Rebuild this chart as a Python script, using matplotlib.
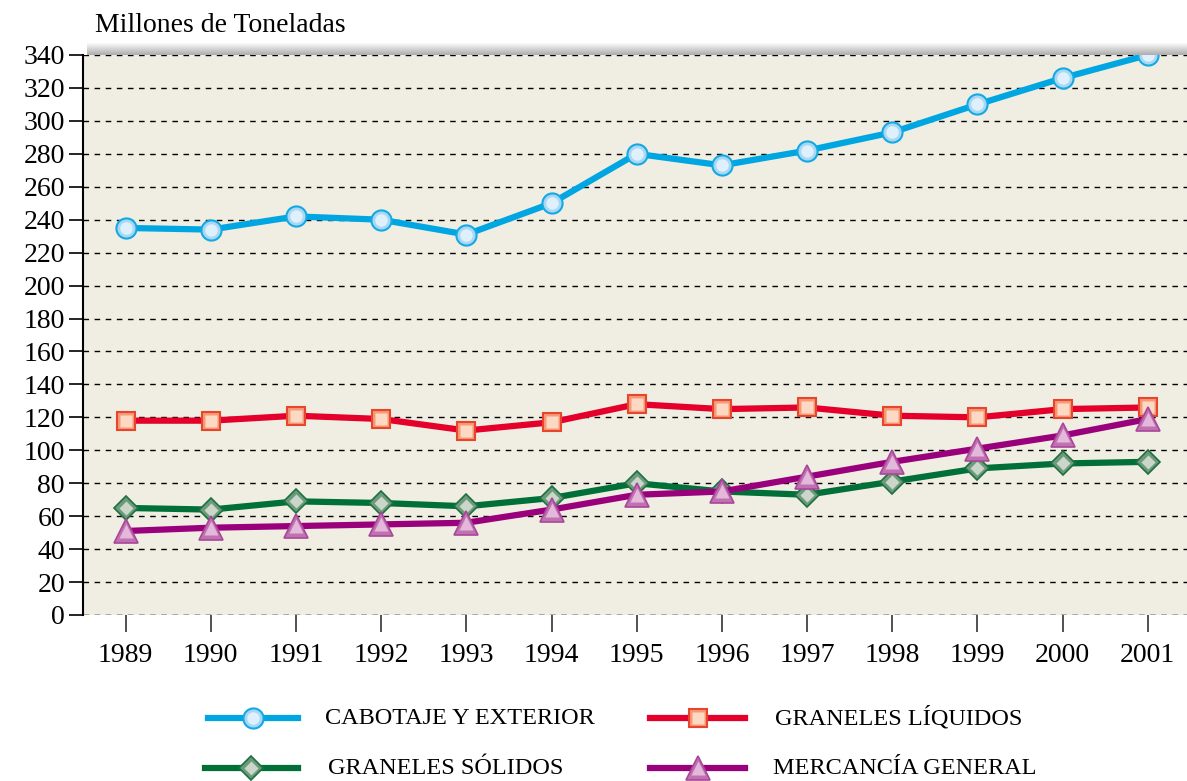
import numpy as np
import matplotlib
matplotlib.use("Agg")
import matplotlib.pyplot as plt
from matplotlib.lines import Line2D

plt.rcParams['font.family'] = ['Liberation Serif', 'DejaVu Serif']

years = [1989, 1990, 1991, 1992, 1993, 1994, 1995, 1996, 1997, 1998, 1999, 2000, 2001]
cabotaje = [235, 234, 242, 240, 231, 250, 280, 273, 282, 293, 310, 326, 340]
liquidos = [118, 118, 121, 119, 112, 117, 128, 125, 126, 121, 120, 125, 126]
solidos = [65, 64, 69, 68, 66, 71, 80, 75, 73, 81, 89, 92, 93]
mercancia = [51, 53, 54, 55, 56, 64, 73, 75, 84, 93, 101, 109, 119]
labels = ["CABOTAJE Y EXTERIOR", "GRANELES LÍQUIDOS", "GRANELES SÓLIDOS", "MERCANCÍA GENERAL"]
yticks = list(range(0, 341, 20))

styles = [
    dict(color="#00A6E2", marker="o", ms=14.5, mfc="#A9D8F4", mec="#12A9E4", mew=1.5),
    dict(color="#E4002B", marker="s", ms=13.5, mfc="#F49A78", mec="#E8452C", mew=1.5),
    dict(color="#007038", marker="D", ms=12.5, mfc="#6E9A7C", mec="#1C7042", mew=1.2),
    dict(color="#9A007C", marker="^", ms=17, mfc="#C072B0", mec="#A8479A", mew=1.2),
]
# lighter centres of the markers
inner = [
    dict(marker="o", ms=9, mfc="#DDF0FC", mec="none"),
    dict(marker="s", ms=8, mfc="#FDD9C4", mec="none"),
    dict(marker="D", ms=7, mfc="#C9D6C9", mec="none"),
    dict(marker="^", ms=10, mfc="#E4B8DA", mec="none"),
]
series = [cabotaje, liquidos, solidos, mercancia]

fig = plt.figure(figsize=(11.87, 7.81), dpi=100)
ax = fig.add_axes([83 / 1187, 1 - 615 / 781, 1 - 83 / 1187, 560 / 781])
ax.set_facecolor("#F0EEE2")

for data, st, inn in zip(series, styles, inner):
    ax.plot(years, data, lw=4.5, solid_capstyle="butt", zorder=3, clip_on=False, **st)
    ax.plot(years, data, lw=0, zorder=3, clip_on=False, **inn)

ax.set_xlim(1988.5, 2001.46)
ax.set_ylim(0, 340)
ax.set_yticks(yticks)
ax.set_xticks(years)
ax.grid(axis="y", color="black", linestyle=(0, (4, 4)), linewidth=1)
ax.set_axisbelow(True)
for s in ["top", "right", "bottom"]:
    ax.spines[s].set_visible(False)
ax.spines["left"].set_linewidth(1.5)
ax.axhline(0, color="#555555", linestyle=(0, (4, 4)), lw=1, zorder=1)
ax.tick_params(axis="y", length=10, width=1.2, labelsize=20, pad=3)
ax.tick_params(axis="x", length=12, width=1.2, labelsize=20, pad=8, colors="#333333", labelcolor="black")

# shadow band above plot area
grad = np.linspace(1, 0.68, 20).reshape(-1, 1)
sh = fig.add_axes([87 / 1187, 1 - 55 / 781, 1 - 87 / 1187, 13 / 781])
sh.imshow(grad, aspect="auto", cmap="gray", vmin=0, vmax=1, extent=[0, 1, 0, 1])
sh.axis("off")

fig.text(95 / 1187, 1 - 26 / 781, "Millones de Toneladas", fontsize=20, va="center", ha="left")

# legend
pos = [(208, 298, 325, 718), (650, 745, 775, 718), (205, 298, 328, 768), (650, 745, 773, 768)]
for (x0, x1, xt, y), lab, st, inn in zip(pos, labels, styles, inner):
    yf = 1 - y / 781
    fig.add_artist(Line2D([x0 / 1187, x1 / 1187], [yf, yf], lw=4.5, color=st["color"],
                          transform=fig.transFigure))
    kw = {k: v for k, v in st.items() if k != "color"}
    xm = (x0 + x1) / 2 / 1187
    fig.add_artist(Line2D([xm], [yf], transform=fig.transFigure, lw=0, **kw))
    fig.add_artist(Line2D([xm], [yf], transform=fig.transFigure, lw=0, **inn))
    fig.text(xt / 1187, yf, lab, fontsize=17.5, va="center", ha="left")

fig.savefig("out.png", dpi=100)
